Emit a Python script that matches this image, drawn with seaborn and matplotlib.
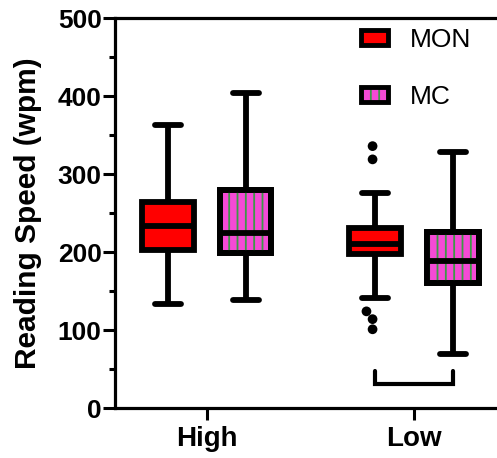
import numpy as np
import pandas as pd
import matplotlib
matplotlib.use("Agg")
import matplotlib.pyplot as plt
import seaborn as sns
from matplotlib.patches import Patch, PathPatch
from matplotlib.legend_handler import HandlerTuple
from matplotlib.ticker import MultipleLocator

# ---- data (five-number summaries) ----
groups = ["High", "Low"]
conditions = ["MON", "MC"]
high_mon = [133, 203, 234, 264, 363]
high_mc = [138, 199, 224, 280, 404]
low_mon = [141, 197, 211, 231, 276]
low_mc = [69, 161, 188, 226, 329]
low_mon_outliers = [336, 319, 124, 114, 101]
bracket_y = [47, 31]

RED = "#FF0000"
PINK = "#F54AD6"
GREEN = "#3C9A46"

df = pd.DataFrame({
    "group": ["High"] * 10 + ["Low"] * 10,
    "cond": ["MON"] * 5 + ["MC"] * 5 + ["MON"] * 5 + ["MC"] * 5,
    "speed": high_mon + high_mc + low_mon + low_mc,
})
out_df = pd.DataFrame({
    "group": ["Low"] * len(low_mon_outliers),
    "cond": ["MON"] * len(low_mon_outliers),
    "speed": low_mon_outliers,
})

sns.set_theme(style="ticks")
plt.rcParams["font.family"] = ["Liberation Sans", "DejaVu Sans"]
plt.rcParams["hatch.linewidth"] = 1.3
for key in ["text.color", "axes.labelcolor", "xtick.color", "ytick.color",
            "axes.edgecolor"]:
    plt.rcParams[key] = "black"

fig = plt.figure(figsize=(4.97, 4.58), dpi=100)
ax = fig.add_axes([115 / 497, 50 / 458, 382 / 497, 389.7 / 458])

BOX_WIDTH = 0.75
sns.boxplot(data=df, x="group", y="speed", hue="cond", order=groups,
            hue_order=conditions, palette={"MON": RED, "MC": PINK},
            saturation=1, whis=(0, 100), width=BOX_WIDTH, gap=1 / 3,
            linewidth=4.2, linecolor="black", showfliers=False,
            legend=False, ax=ax)

sns.swarmplot(data=out_df, x="group", y="speed", hue="cond", order=groups,
              hue_order=conditions, dodge=True,
              palette={"MON": "black", "MC": "black"}, size=7,
              legend=False, ax=ax)

# hatch overlay for the MC boxes
pink_rgba = matplotlib.colors.to_rgba(PINK)
for p in list(ax.patches):
    fc = p.get_facecolor()
    if np.allclose(fc[:3], pink_rgba[:3], atol=0.02):
        z = p.get_zorder()
        hatch = PathPatch(p.get_path(), transform=p.get_transform(),
                          facecolor="none", edgecolor=GREEN, linewidth=0,
                          hatch="||", zorder=z + 0.01)
        ax.add_patch(hatch)
        outline = PathPatch(p.get_path(), transform=p.get_transform(),
                            facecolor="none", edgecolor="black",
                            linewidth=p.get_linewidth(), zorder=z + 0.02)
        ax.add_patch(outline)
for ln in ax.lines:
    ln.set_zorder(3)

# bracket under the Low group
off = BOX_WIDTH / 4
ax.plot([1 - off, 1 - off, 1 + off, 1 + off],
        [bracket_y[0], bracket_y[1], bracket_y[1], bracket_y[0]],
        color="black", lw=3, solid_joinstyle="miter", zorder=3)

ax.set_xlim(-0.442, 1.400)
ax.set_ylim(0, 500)
ax.yaxis.set_major_locator(MultipleLocator(100))
ax.yaxis.set_minor_locator(MultipleLocator(50))

for side in ["left", "bottom", "top"]:
    ax.spines[side].set_linewidth(2.3)
    ax.spines[side].set_color("black")
ax.spines["right"].set_visible(False)

ax.tick_params(axis="y", which="major", length=8.6, width=2.2,
               labelsize=19, pad=1, color="black", labelcolor="black")
ax.tick_params(axis="y", which="minor", length=4.3, width=2.2, color="black")
ax.tick_params(axis="x", which="major", length=8.6, width=2.2,
               labelsize=20, pad=4, color="black", labelcolor="black")
for lab in ax.get_xticklabels() + ax.get_yticklabels():
    lab.set_fontweight("bold")

ax.set_xlabel("")
ax.set_ylabel("Reading Speed (wpm)", fontsize=21.5, fontweight="bold",
              labelpad=11, color="black")

# legend
h_mon = Patch(facecolor=RED, edgecolor="black", linewidth=3.5)
h_mc = (Patch(facecolor=PINK, edgecolor="none", linewidth=0),
        Patch(facecolor="none", edgecolor=GREEN, linewidth=0, hatch="||"),
        Patch(facecolor="none", edgecolor="black", linewidth=3.5))
leg = fig.legend([h_mon, h_mc], conditions, loc="upper left",
                 bbox_to_anchor=(360.5 / 497, (458 - 28) / 458),
                 bbox_transform=fig.transFigure, frameon=False, borderpad=0,
                 borderaxespad=0, handlelength=1.06, handleheight=0.5,
                 handletextpad=0.81, labelspacing=1.25, fontsize=19,
                 handler_map={tuple: HandlerTuple(ndivide=1, pad=0)})
for t in leg.get_texts():
    t.set_color("black")

fig.savefig("out.png", dpi=100)
